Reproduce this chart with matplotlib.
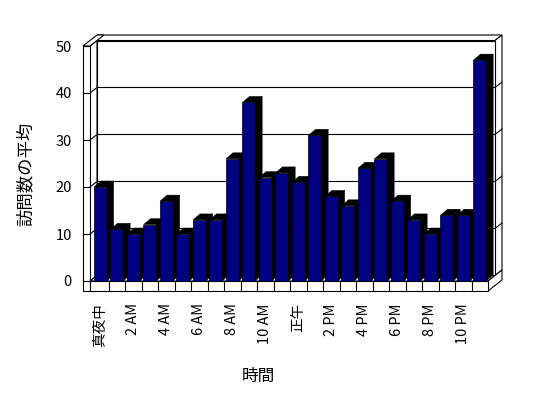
import matplotlib
matplotlib.use("Agg")
import matplotlib.pyplot as plt
from matplotlib.patches import Polygon
import numpy as np

plt.rcParams['font.family'] = ['Noto Sans CJK JP', 'DejaVu Sans']

# ---- data ----
hours = ['真夜中', '1 AM', '2 AM', '3 AM', '4 AM', '5 AM', '6 AM', '7 AM',
         '8 AM', '9 AM', '10 AM', '11 AM', '正午', '1 PM', '2 PM', '3 PM',
         '4 PM', '5 PM', '6 PM', '7 PM', '8 PM', '9 PM', '10 PM', '11 PM']
visits = [20, 11, 10, 12, 17, 10, 13, 13, 26, 38, 22, 23,
          21, 31, 18, 16, 24, 26, 17, 13, 10, 14, 14, 47]
y_ticks = [0, 10, 20, 30, 40, 50]
x_title = '時間'
y_title = '訪問数の平均'

# ---- figure geometry ----
W, H = 548, 398
fig = plt.figure(figsize=(W / 100, H / 100), dpi=100)
PX_X = 16.5   # pixels per category
PX_Y = 4.7    # pixels per value unit
x0_px, y0_px = 92, 281
n = len(visits)
ymax = 50
ax = fig.add_axes([x0_px / W, (H - y0_px) / H, n * PX_X / W, ymax * PX_Y / H])
ax.set_xlim(0, n)
ax.set_ylim(0, ymax)


def px(dx=0, dy=0):
    return dx / PX_X, dy / PX_Y


dx, dy = px(7, 5.5)          # half depth of the chart box
wall = px(7)[0]              # left wall thickness
floor_h = px(0, 10)[1]       # floor slab thickness
inner = -px(2)[0]            # inner edge of left wall
outer = inner - wall
lw = 0.8
K = dict(facecolor='white', edgecolor='black', linewidth=lw, clip_on=False,
         joinstyle='miter')


def poly(pts, **kw):
    p = Polygon(pts, closed=True, **kw)
    ax.add_patch(p)
    return p


# back wall: top face, right face, front face
poly([(inner + dx, ymax + dy), (n + dx, ymax + dy), (n + 2 * dx, ymax + 2 * dy),
      (outer + 2 * dx, ymax + 2 * dy)], **K)
poly([(n + dx, dy), (n + 2 * dx, 2 * dy), (n + 2 * dx, ymax + 2 * dy),
      (n + dx, ymax + dy)], **K)
poly([(inner + dx, dy), (n + dx, dy), (n + dx, ymax + dy),
      (inner + dx, ymax + dy)], **K)

# left wall: inner face, top face, front face
poly([(inner, 0), (inner + dx, dy), (inner + dx, ymax + dy), (inner, ymax)], **K)
poly([(outer, ymax), (inner, ymax), (inner + 2 * dx, ymax + 2 * dy),
      (outer + 2 * dx, ymax + 2 * dy)], **K)
poly([(outer, -floor_h), (inner, -floor_h), (inner, ymax), (outer, ymax)], **K)

# gridlines: left wall inner face, back wall, back wall right face
for v in y_ticks[1:-1]:
    ax.plot([inner, inner + dx, n + dx, n + 2 * dx],
            [v, v + dy, v + dy, v + 2 * dy], color='black', lw=lw,
            clip_on=False, solid_joinstyle='miter')

# floor: top face, right face, front face
poly([(inner, 0), (n, 0), (n + dx, dy), (inner + dx, dy)], **K)
poly([(n, -floor_h), (n + 2 * dx, -floor_h + 2 * dy), (n + 2 * dx, 2 * dy),
      (n, 0)], **K)
poly([(inner, -floor_h), (n, -floor_h), (n, 0), (inner, 0)], **K)
for i in range(1, n):
    ax.plot([i, i], [-floor_h, 0], color='black', lw=lw, clip_on=False)

# bars with 3D sides
bw = 0.77
boff = 0.12
bdx, bdy = px(7, 6)
xs = np.arange(n) + boff
for i, (x, v) in enumerate(zip(xs, visits)):
    r = x + bw
    poly([(r, 0), (r + bdx, bdy), (r + bdx, v + bdy), (r, v)],
         facecolor='black', edgecolor='black', linewidth=0.3, clip_on=False)
    poly([(x, v), (r, v), (r + bdx, v + bdy), (x + bdx, v + bdy)],
         facecolor='black', edgecolor='black', linewidth=0.3, clip_on=False)
ax.bar(xs, visits, width=bw, align='edge', color='#000080',
       edgecolor='black', linewidth=0.5, zorder=3, clip_on=False)
# redraw sides of following bars over previous ones (draw order)
for i, (x, v) in enumerate(zip(xs, visits)):
    pass

# axes styling
for s in ax.spines.values():
    s.set_visible(False)
ax.spines['left'].set_position(('data', inner))
ax.set_yticks(y_ticks)
ax.tick_params(axis='y', direction='out', length=5.0, width=lw, pad=8,
               labelsize=10.5, color='black')
ax.set_xticks(np.arange(0, n, 2) + 0.5)
ax.set_xticklabels(hours[0::2], rotation=90, fontsize=10.5)
ax.tick_params(axis='x', length=0, pad=16)

ax.set_xlabel(x_title, fontsize=12)
ax.xaxis.set_label_coords((258 - x0_px) / (n * PX_X), (y0_px - 368) / (ymax * PX_Y))
ax.set_ylabel(y_title, fontsize=12.5)
ax.yaxis.label.set_verticalalignment('center')
ax.yaxis.set_label_coords((26 - x0_px) / (n * PX_X), (y0_px - 174) / (ymax * PX_Y))
ax.set_facecolor('none')
ax.patch.set_visible(False)

fig.savefig('out.png', dpi=100)
